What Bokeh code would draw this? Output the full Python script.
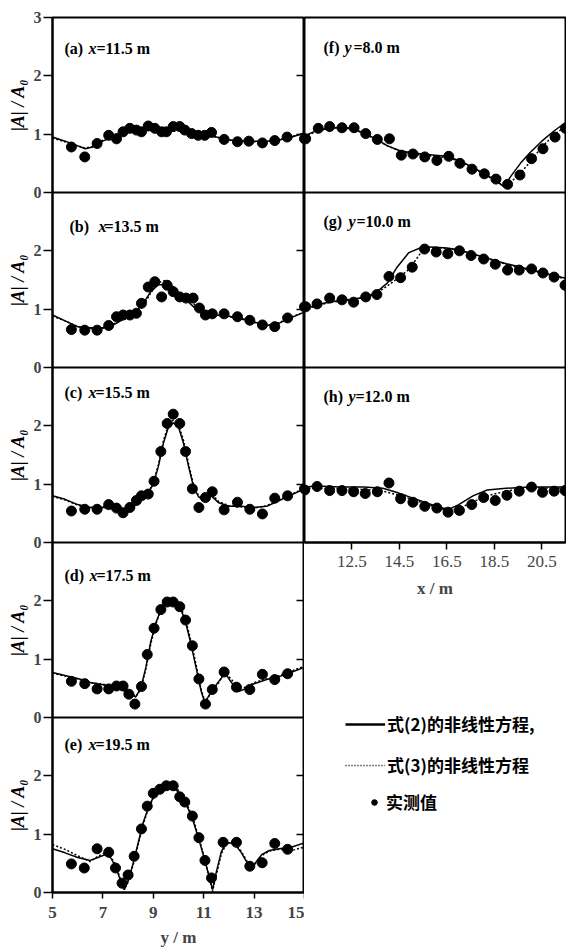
import math
from bokeh.plotting import figure
from bokeh.models import (Range1d, LinearAxis, FixedTicker, Label, Legend, LegendItem,
                          ColumnDataSource, Grid)
from bokeh.layouts import row, column
from bokeh.transform import dodge
from bokeh.core.properties import value
from bokeh.embed import file_html
from bokeh.resources import INLINE

# ------------------------------------------------------------------ data
# left column: |A|/A0 along y (m) at fixed x
a_pos = [5.75, 6.28, 6.77, 7.23, 7.54, 7.8, 8.07, 8.33, 8.53, 8.8, 9.06, 9.33, 9.52, 9.79, 10.05,
         10.25, 10.52, 10.78, 11.04, 11.31, 11.81, 12.34, 12.79, 13.33, 13.82, 14.31, 15.0]
a_val = [0.78, 0.61, 0.84, 0.98, 0.92, 1.04, 1.10, 1.07, 1.04, 1.14, 1.10, 1.04, 1.04, 1.13, 1.13,
         1.07, 1.01, 0.98, 0.98, 1.03, 0.91, 0.87, 0.88, 0.85, 0.89, 0.95, 0.92]
a_cx = [5.0, 5.5, 6.0, 6.3, 6.6, 7.0, 7.5, 8.0, 8.5, 9.0, 9.5, 10.0, 10.5, 11.0, 11.5, 12.0, 12.5,
        13.0, 13.5, 14.0, 14.5, 15.0]
a_eq2 = [0.95, 0.88, 0.80, 0.75, 0.78, 0.88, 0.98, 1.05, 1.08, 1.07, 1.08, 1.10, 1.05, 1.00, 0.95,
         0.90, 0.88, 0.88, 0.88, 0.90, 0.95, 1.02]
a_eq3 = [0.93, 0.87, 0.80, 0.76, 0.79, 0.90, 1.00, 1.06, 1.09, 1.08, 1.07, 1.10, 1.06, 1.01, 0.95,
         0.90, 0.88, 0.87, 0.88, 0.91, 0.96, 1.02]

b_pos = [5.75, 6.28, 6.77, 7.23, 7.54, 7.8, 8.07, 8.33, 8.53, 8.8, 9.06, 9.33, 9.55, 9.79, 10.05,
         10.3, 10.58, 10.83, 11.07, 11.34, 11.81, 12.34, 12.83, 13.33, 13.82, 14.33, 15.0]
b_val = [0.65, 0.64, 0.64, 0.72, 0.87, 0.90, 0.90, 0.93, 1.10, 1.38, 1.47, 1.21, 1.41, 1.30, 1.21,
         1.19, 1.19, 1.02, 0.90, 0.92, 0.92, 0.87, 0.81, 0.73, 0.70, 0.85, 1.04]
b_cx = [5.0, 5.5, 6.0, 6.5, 7.0, 7.5, 8.0, 8.3, 8.6, 8.9, 9.2, 9.5, 9.8, 10.1, 10.4, 10.7, 11.0,
        11.5, 12.0, 12.5, 13.0, 13.5, 14.0, 14.5, 15.0]
b_eq2 = [0.90, 0.80, 0.70, 0.68, 0.68, 0.75, 0.88, 0.95, 1.10, 1.30, 1.42, 1.42, 1.33, 1.22, 1.12,
         1.00, 0.93, 0.90, 0.88, 0.84, 0.78, 0.72, 0.76, 0.86, 0.95]
b_eq3 = [0.88, 0.80, 0.70, 0.67, 0.67, 0.76, 0.86, 0.93, 1.05, 1.28, 1.45, 1.50, 1.38, 1.25, 1.18,
         1.05, 0.95, 0.90, 0.87, 0.83, 0.77, 0.72, 0.77, 0.87, 0.95]

c_pos = [5.75, 6.28, 6.77, 7.23, 7.54, 7.8, 8.07, 8.33, 8.53, 8.8, 9.03, 9.3, 9.55, 9.79, 10.05,
         10.28, 10.55, 10.81, 11.07, 11.34, 11.81, 12.34, 12.83, 13.33, 13.82, 14.33, 15.0]
c_val = [0.54, 0.57, 0.57, 0.65, 0.59, 0.51, 0.60, 0.72, 0.80, 0.83, 1.05, 1.56, 2.04, 2.20, 2.04,
         1.56, 0.92, 0.60, 0.77, 0.87, 0.56, 0.69, 0.57, 0.49, 0.76, 0.80, 0.92]
c_cx = [5.0, 5.5, 6.0, 6.5, 7.0, 7.5, 7.9, 8.2, 8.5, 8.8, 9.0, 9.2, 9.4, 9.6, 9.8, 10.0, 10.2,
        10.4, 10.6, 10.8, 11.0, 11.3, 11.6, 12.0, 12.5, 13.0, 13.5, 14.0, 14.5, 15.0]
c_eq2 = [0.80, 0.74, 0.65, 0.60, 0.60, 0.58, 0.55, 0.60, 0.75, 0.85, 1.00, 1.30, 1.70, 1.98, 2.05,
         1.98, 1.70, 1.30, 0.95, 0.78, 0.72, 0.80, 0.68, 0.62, 0.62, 0.60, 0.62, 0.72, 0.82, 0.92]
c_eq3 = [0.79, 0.73, 0.64, 0.60, 0.61, 0.59, 0.56, 0.62, 0.76, 0.86, 1.02, 1.33, 1.74, 2.02, 2.10,
         2.02, 1.75, 1.35, 0.98, 0.80, 0.74, 0.84, 0.70, 0.63, 0.61, 0.59, 0.63, 0.74, 0.83, 0.93]

d_pos = [5.75, 6.28, 6.77, 7.23, 7.54, 7.8, 8.03, 8.27, 8.53, 8.76, 9.03, 9.3, 9.55, 9.79, 10.05,
         10.28, 10.55, 10.81, 11.07, 11.34, 11.81, 12.3, 12.83, 13.33, 13.82, 14.33]
d_val = [0.62, 0.58, 0.49, 0.49, 0.54, 0.54, 0.40, 0.23, 0.53, 1.08, 1.53, 1.85, 1.98, 1.98, 1.90,
         1.67, 1.23, 0.66, 0.23, 0.48, 0.78, 0.52, 0.48, 0.74, 0.65, 0.75]
d_cx = [5.0, 5.5, 6.0, 6.5, 7.0, 7.5, 7.9, 8.2, 8.3, 8.5, 8.7, 8.9, 9.1, 9.3, 9.5, 9.7, 9.9, 10.1,
        10.3, 10.5, 10.7, 10.9, 11.05, 11.3, 11.6, 11.85, 12.1, 12.4, 12.7, 13.0, 13.5, 14.0, 14.5,
        15.0]
d_eq2 = [0.77, 0.72, 0.67, 0.60, 0.56, 0.52, 0.45, 0.38, 0.35, 0.50, 0.85, 1.30, 1.62, 1.85, 1.96,
         1.98, 1.95, 1.85, 1.60, 1.25, 0.85, 0.45, 0.25, 0.45, 0.62, 0.76, 0.60, 0.45, 0.50, 0.58,
         0.65, 0.70, 0.78, 0.86]
d_eq3 = [0.76, 0.71, 0.66, 0.60, 0.57, 0.53, 0.46, 0.40, 0.36, 0.48, 0.82, 1.26, 1.60, 1.84, 1.97,
         2.00, 1.97, 1.88, 1.65, 1.30, 0.90, 0.48, 0.27, 0.42, 0.60, 0.78, 0.65, 0.50, 0.52, 0.60,
         0.66, 0.72, 0.80, 0.88]

e_pos = [5.75, 6.26, 6.77, 7.23, 7.5, 7.76, 8.0, 8.24, 8.53, 8.76, 9.0, 9.26, 9.52, 9.79, 10.05,
         10.25, 10.55, 10.81, 11.05, 11.31, 11.77, 12.3, 12.83, 13.32, 13.82, 14.33]
e_val = [0.49, 0.42, 0.75, 0.69, 0.42, 0.16, 0.30, 0.62, 1.09, 1.48, 1.70, 1.77, 1.83, 1.83, 1.64,
         1.55, 1.31, 0.94, 0.55, 0.25, 0.86, 0.86, 0.45, 0.51, 0.84, 0.74]
e_cx = [5.0, 5.5, 6.0, 6.5, 6.8, 7.1, 7.3, 7.5, 7.7, 7.85, 8.0, 8.2, 8.4, 8.6, 8.8, 9.0, 9.2, 9.5,
        9.8, 10.0, 10.2, 10.4, 10.6, 10.8, 11.0, 11.2, 11.35, 11.5, 11.7, 11.9, 12.2, 12.5, 12.8,
        13.0, 13.3, 13.6, 14.0, 14.5, 15.0]
e_eq2 = [0.75, 0.68, 0.60, 0.55, 0.60, 0.65, 0.60, 0.45, 0.20, 0.05, 0.20, 0.50, 0.85, 1.20, 1.45,
         1.63, 1.73, 1.80, 1.80, 1.72, 1.60, 1.42, 1.20, 0.92, 0.62, 0.30, 0.05, 0.35, 0.70, 0.85,
         0.85, 0.68, 0.45, 0.48, 0.65, 0.72, 0.75, 0.78, 0.85]
e_eq3 = [0.82, 0.74, 0.63, 0.53, 0.62, 0.68, 0.62, 0.48, 0.22, 0.05, 0.18, 0.47, 0.82, 1.17, 1.43,
         1.62, 1.74, 1.82, 1.83, 1.75, 1.63, 1.45, 1.24, 0.95, 0.64, 0.30, 0.02, 0.30, 0.66, 0.84,
         0.86, 0.70, 0.47, 0.47, 0.63, 0.71, 0.74, 0.72, 0.78]

# right column: |A|/A0 along x (m) at fixed y
f_pos = [10.55, 11.08, 11.56, 12.08, 12.59, 13.08, 13.57, 14.08, 14.58, 15.07, 15.57, 16.08,
         16.58, 17.05, 17.56, 18.08, 18.57, 19.06, 19.58, 20.07, 20.55, 21.06, 21.5]
f_val = [0.92, 1.10, 1.13, 1.11, 1.11, 1.01, 0.91, 0.92, 0.64, 0.66, 0.61, 0.55, 0.62, 0.50, 0.40,
         0.32, 0.23, 0.14, 0.30, 0.58, 0.75, 0.95, 1.10]
f_cx = [10.5, 11.0, 11.5, 12.0, 12.5, 13.0, 13.5, 14.0, 14.5, 15.0, 15.5, 16.0, 16.5, 17.0, 17.5,
        18.0, 18.5, 18.9, 19.2, 19.6, 20.0, 20.5, 21.0, 21.5]
f_eq2 = [0.97, 1.06, 1.10, 1.12, 1.10, 1.02, 0.92, 0.80, 0.72, 0.68, 0.66, 0.64, 0.62, 0.55, 0.45,
         0.34, 0.22, 0.10, 0.28, 0.50, 0.68, 0.88, 1.05, 1.20]
f_eq3 = [0.95, 1.05, 1.10, 1.11, 1.09, 1.01, 0.91, 0.80, 0.71, 0.66, 0.64, 0.62, 0.60, 0.54, 0.44,
         0.33, 0.21, 0.12, 0.18, 0.33, 0.52, 0.78, 0.98, 1.14]

g_pos = [10.55, 11.03, 11.56, 12.08, 12.57, 13.08, 13.55, 14.06, 14.55, 15.04, 15.56, 16.05,
         16.54, 17.03, 17.52, 18.05, 18.54, 19.06, 19.55, 20.07, 20.55, 21.02, 21.48]
g_val = [1.04, 1.09, 1.19, 1.16, 1.12, 1.21, 1.25, 1.56, 1.54, 1.72, 2.03, 1.98, 1.95, 2.00, 1.92,
         1.86, 1.77, 1.67, 1.67, 1.69, 1.62, 1.55, 1.41]
g_cx = [10.5, 11.0, 11.5, 12.0, 12.5, 13.0, 13.5, 14.0, 14.4, 14.9, 15.5, 16.0, 16.5, 17.0, 17.5,
        18.0, 18.5, 19.0, 19.5, 20.0, 20.5, 21.0, 21.5]
g_eq2 = [1.00, 1.07, 1.12, 1.15, 1.17, 1.20, 1.28, 1.45, 1.72, 1.97, 2.07, 2.06, 2.05, 2.02, 1.96,
         1.90, 1.84, 1.78, 1.73, 1.68, 1.63, 1.58, 1.53]
g_eq3 = [0.98, 1.06, 1.11, 1.14, 1.16, 1.20, 1.26, 1.40, 1.52, 1.68, 2.02, 2.06, 2.04, 2.01, 1.95,
         1.89, 1.83, 1.77, 1.72, 1.67, 1.62, 1.57, 1.52]

h_pos = [10.51, 11.03, 11.56, 12.08, 12.57, 13.06, 13.57, 14.06, 14.55, 15.07, 15.57, 16.08,
         16.55, 17.03, 17.55, 18.05, 18.54, 19.03, 19.55, 20.07, 20.53, 21.02, 21.48]
h_val = [0.90, 0.96, 0.89, 0.89, 0.87, 0.84, 0.87, 1.02, 0.75, 0.69, 0.62, 0.59, 0.52, 0.55, 0.65,
         0.77, 0.72, 0.81, 0.88, 0.95, 0.86, 0.88, 0.89]
h_cx = [10.5, 11.0, 12.0, 13.0, 13.8, 14.3, 14.8, 15.5, 16.2, 16.6, 17.0, 17.6, 18.2, 19.0, 20.0,
        21.0, 21.5]
h_eq2 = [0.95, 0.97, 0.95, 0.95, 0.93, 0.87, 0.80, 0.70, 0.60, 0.57, 0.65, 0.80, 0.90, 0.93, 0.95,
         0.95, 0.95]
h_eq3 = [0.93, 0.93, 0.92, 0.91, 0.88, 0.83, 0.77, 0.68, 0.58, 0.55, 0.58, 0.70, 0.80, 0.88, 0.94,
         0.93, 0.93]

left_tags = ["(a)", "(b)", "(c)", "(d)", "(e)"]
left_vals = ["=11.5 m", "=13.5 m", "=15.5 m", "=17.5 m", "=19.5 m"]
right_tags = ["(f)", "(g)", "(h)"]
right_vals = ["=8.0 m", "=10.0 m", "=12.0 m"]

left_xticks = [5, 7, 9, 11, 13, 15]
right_xticks = [12.5, 14.5, 16.5, 18.5, 20.5]
panel_tick_labels = ["0", "1", "2"]
top_tick_label = "3"
y_label = "|A| / A₀"
left_xlabel = "y / m"
right_xlabel = "x / m"
legend_labels = ["式(2)的非线性方程,", "式(3)的非线性方程", "实测值"]

# ------------------------------------------------------------------ style / layout
SERIF = "Liberation Serif"
CJK = "Noto Sans CJK SC"
PH = 175                      # panel height in px
TOP_BORDER = 17
YLAB_W = 30
LEFT_BORDER = 21
BOTTOM = 947                  # page y of the lowest pixel row used
left_title_pos = [(12, 36, 44, 31), (17, 46, 52, 34), (12, 36, 43, 25), (12, 37, 44, 33), (12, 36, 43, 27)]
right_title_pos = [(19, 40, 49, 30), (19, 44, 52, 29), (19, 44, 51, 29)]

left_data = [(a_pos, a_val, a_cx, a_eq2, a_eq3), (b_pos, b_val, b_cx, b_eq2, b_eq3),
             (c_pos, c_val, c_cx, c_eq2, c_eq3), (d_pos, d_val, d_cx, d_eq2, d_eq3),
             (e_pos, e_val, e_cx, e_eq2, e_eq3)]
right_data = [(f_pos, f_val, f_cx, f_eq2, f_eq3), (g_pos, g_val, g_cx, g_eq2, g_eq3),
              (h_pos, h_val, h_cx, h_eq2, h_eq3)]


def style_frame(p):
    p.outline_line_color = "black"
    p.outline_line_width = 2
    p.background_fill_color = "white"
    p.border_fill_color = "white"
    for g in p.grid:
        g.visible = False


def draw_panel(p, data, off):
    pos, val, cx, eq2, eq3 = data
    r2 = p.line(x="x", y=dodge("y", off), source=ColumnDataSource(dict(x=cx, y=eq2)),
                line_color="black", line_width=1.5)
    r3 = p.line(x="x", y=dodge("y", off), source=ColumnDataSource(dict(x=cx, y=eq3)),
                line_color="black", line_width=1.5, line_dash="2 2")
    rs = p.scatter(x="x", y=dodge("y", off), source=ColumnDataSource(dict(x=pos, y=val)),
                   size=10, fill_color="black", line_color="black", marker="circle")
    return r2, r3, rs


def add_title(p, frame_h, idx, tag, var, rest, tpos):
    xt, xv, xr, base = tpos
    y = frame_h - idx * PH - base
    for txt, x, st in ((tag, xt, "bold"), (var, xv, "bold italic"), (rest, xr, "bold")):
        p.add_layout(Label(x=x, y=y, x_units="screen", y_units="screen", text=txt,
                           text_font=SERIF, text_font_size="16px", text_font_style=st,
                           text_align="left", text_baseline="alphabetic", text_color="black"))


n_left = len(left_data)
LH = n_left * PH
L_BOTTOM = BOTTOM - TOP_BORDER - LH

# ------------------------------------------------------------------ y-label strip
ylab = figure(x_range=Range1d(0, 1), y_range=Range1d(0, 3 * n_left),
              frame_width=YLAB_W, frame_height=LH, min_border_left=0, min_border_right=0,
              min_border_top=TOP_BORDER, min_border_bottom=L_BOTTOM,
              x_axis_location=None, y_axis_location=None,
              output_backend="svg", toolbar_location=None)
ylab.outline_line_color = None
for g in ylab.grid:
    g.visible = False
for i in range(n_left):
    off = 3 * (n_left - 1 - i)
    ylab.add_layout(Label(x=17, x_units="screen", y=1.5 + off, text=y_label, angle=math.pi / 2,
                          text_align="center", text_baseline="middle", text_font=SERIF,
                          text_font_style="bold italic", text_font_size="18px", text_color="black"))

# ------------------------------------------------------------------ left column
left = figure(x_range=Range1d(5, 15), y_range=Range1d(0, 3 * n_left),
              frame_width=252, frame_height=LH,
              min_border_left=LEFT_BORDER, min_border_right=0, min_border_top=TOP_BORDER,
              min_border_bottom=L_BOTTOM, output_backend="svg", toolbar_location=None)
style_frame(left)
left.add_layout(Grid(dimension=1, ticker=FixedTicker(ticks=[3 * k for k in range(1, n_left)]),
                     grid_line_color="black", grid_line_width=2))

yt = list(range(0, 3 * n_left + 1))
overrides = {}
for t in yt:
    overrides[t] = top_tick_label if t == 3 * n_left else panel_tick_labels[t % 3]
ya = left.yaxis[0]
ya.ticker = FixedTicker(ticks=yt)
ya.major_label_overrides = overrides
ya.major_tick_out = 9
ya.major_tick_in = 0
ya.major_tick_line_width = 1.5
ya.minor_tick_line_color = None
ya.axis_line_width = 2
ya.major_label_standoff = 2
ya.major_label_text_font = SERIF
ya.major_label_text_font_style = "bold"
ya.major_label_text_font_size = "16px"

xa = left.xaxis[0]
xa.ticker = FixedTicker(ticks=left_xticks)
xa.major_tick_out = 6
xa.major_tick_in = 0
xa.major_tick_line_width = 1.5
xa.minor_tick_line_color = None
xa.axis_line_width = 2
xa.major_label_standoff = 8
xa.major_label_text_font = SERIF
xa.major_label_text_font_style = "bold"
xa.major_label_text_font_size = "17px"
xa.axis_label = left_xlabel
xa.axis_label_standoff = 7
xa.axis_label_text_font = SERIF
xa.axis_label_text_font_style = "bold"
xa.axis_label_text_font_size = "17px"

inner = [t for t in yt if t % 3 != 0]
ra = LinearAxis(ticker=FixedTicker(ticks=inner), fixed_location=15, major_tick_in=8,
                major_tick_out=0, major_tick_line_width=1.5, minor_tick_line_color=None,
                axis_line_color=None, major_label_text_color=None)
left.add_layout(ra, "right")

for i, data in enumerate(left_data):
    off = 3 * (n_left - 1 - i)
    draw_panel(left, data, off)
    add_title(left, LH, i, left_tags[i], "x", left_vals[i], left_title_pos[i])

# ------------------------------------------------------------------ right column
n_right = len(right_data)
RH = n_right * PH
R_BOTTOM = 66
right = figure(x_range=Range1d(10.5, 21.5), y_range=Range1d(0, 3 * n_right),
               frame_width=261, frame_height=RH,
               min_border_left=0, min_border_right=1, min_border_top=TOP_BORDER,
               min_border_bottom=R_BOTTOM, y_axis_location=None,
               output_backend="svg", toolbar_location=None)
style_frame(right)
right.add_layout(Grid(dimension=1, ticker=FixedTicker(ticks=[3 * k for k in range(1, n_right)]),
                      grid_line_color="black", grid_line_width=2))
rx = right.xaxis[0]
rx.ticker = FixedTicker(ticks=right_xticks)
rx.major_tick_out = 7
rx.major_tick_in = 0
rx.major_tick_line_width = 1.5
rx.minor_tick_line_color = None
rx.axis_line_width = 2
rx.major_label_standoff = 6
rx.major_label_text_font = SERIF
rx.major_label_text_font_style = "normal"
rx.major_label_text_font_size = "17px"
rx.axis_label = right_xlabel
rx.axis_label_standoff = 9
rx.axis_label_text_font = SERIF
rx.axis_label_text_font_style = "bold"
rx.axis_label_text_font_size = "17px"

for i, data in enumerate(right_data):
    off = 3 * (n_right - 1 - i)
    draw_panel(right, data, off)
    add_title(right, RH, i, right_tags[i], "y", right_vals[i], right_title_pos[i])

# ------------------------------------------------------------------ legend block
LEG_H = BOTTOM - (TOP_BORDER + RH + R_BOTTOM)
leg = figure(x_range=Range1d(10.5, 21.5), y_range=Range1d(0, 3), frame_width=261, frame_height=LEG_H,
             min_border_left=0, min_border_right=1, min_border_top=0, min_border_bottom=0,
             x_axis_location=None, y_axis_location=None,
             output_backend="svg", toolbar_location=None)
leg.outline_line_color = None
for g in leg.grid:
    g.visible = False
# hidden copies of panel (f) series, used only as legend keys
k2 = leg.line(x=f_cx, y=f_eq2, line_color="black", line_width=2.5, visible=False)
k3 = leg.line(x=f_cx, y=f_eq3, line_color="black", line_width=1.5, line_dash="1 2", visible=False)
ks = leg.scatter(x=f_pos, y=f_val, fill_color="black", line_color="black", marker="circle",
                 visible=False)

leg_common = dict(border_line_color=None, background_fill_alpha=0, padding=0, margin=0,
                  label_text_font=CJK, label_text_font_style="bold", label_text_font_size="17px",
                  label_text_color="black", click_policy="none")
leg1 = Legend(items=[LegendItem(label=value(legend_labels[0]), renderers=[k2]),
                     LegendItem(label=value(legend_labels[1]), renderers=[k3])],
              location=(41, 170), glyph_width=40, glyph_height=20, label_height=20,
              spacing=16, label_standoff=2, **leg_common)
leg2 = Legend(items=[LegendItem(label=value(legend_labels[2]), renderers=[ks])],
              location=(63, 133), glyph_width=14, glyph_height=14, label_height=20,
              label_standoff=5, **leg_common)
leg.add_layout(leg1)
leg.add_layout(leg2)

layout = row(ylab, left, column(right, leg))
open("out.html", "w").write(file_html(layout, INLINE))
